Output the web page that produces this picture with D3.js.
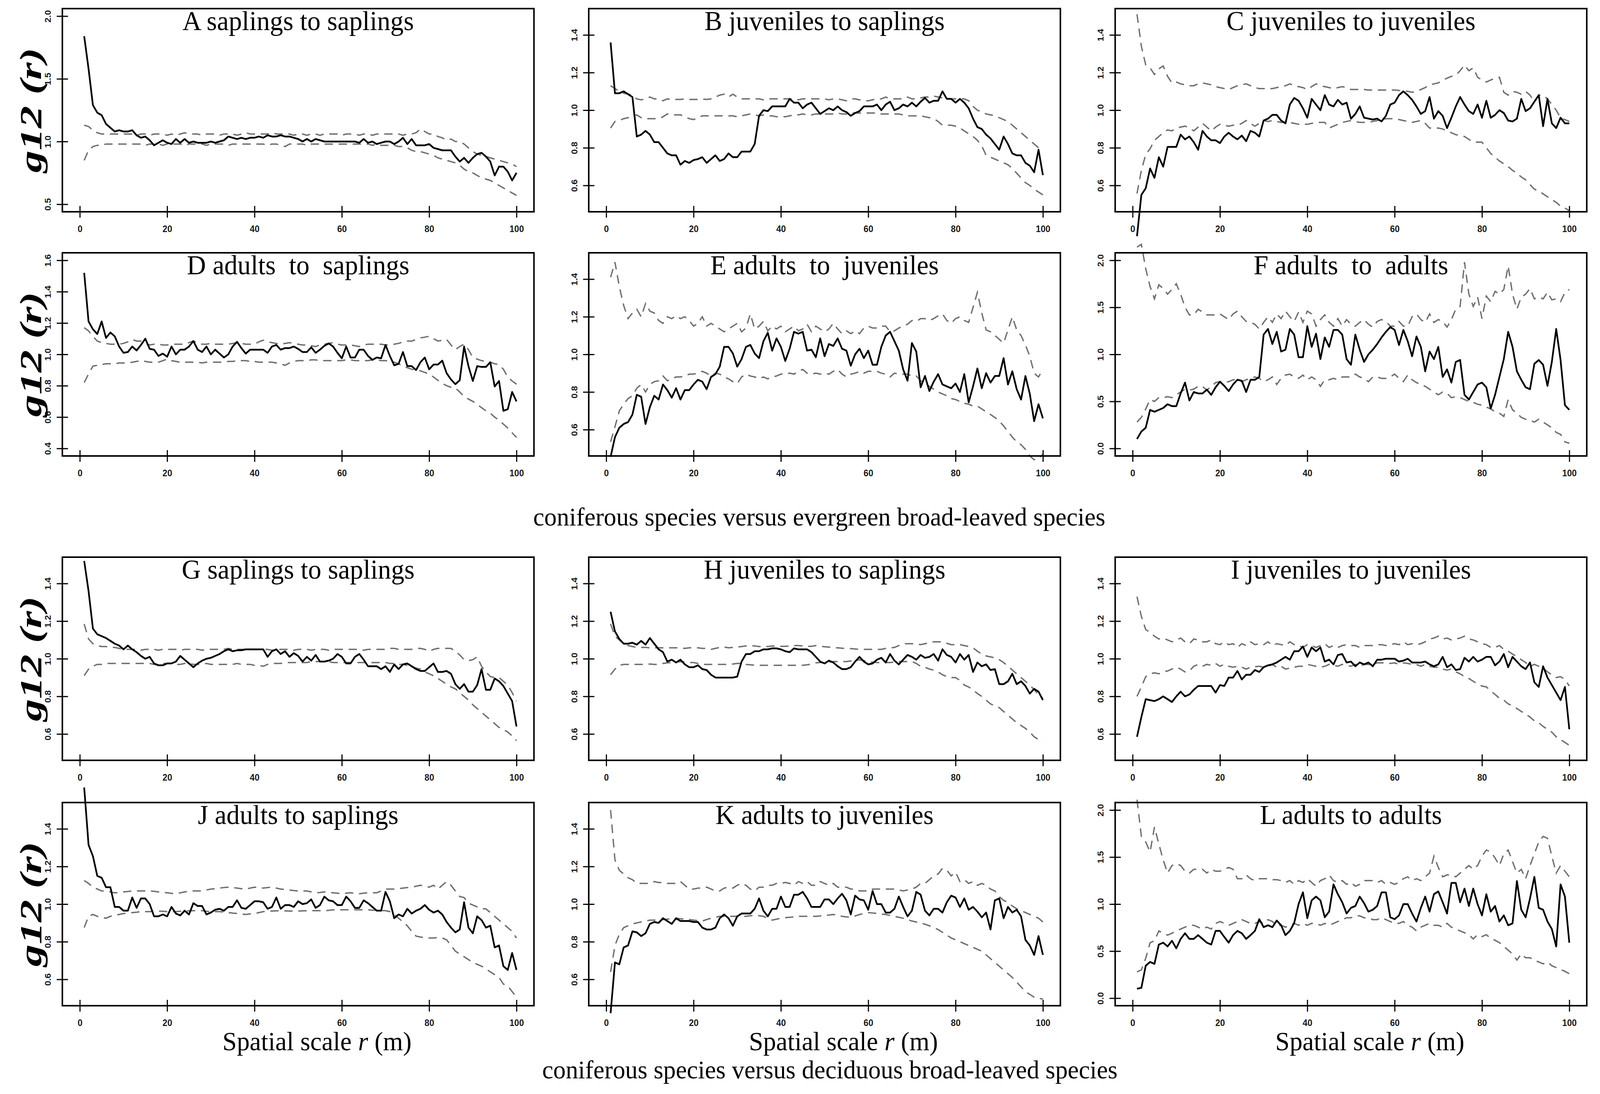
<!DOCTYPE html>
<head>
<meta charset="utf-8">
<script src="https://d3js.org/d3.v7.min.js"></script>
<style>
html, body { margin: 0; padding: 0; background: white; overflow: hidden; width: 100%; height: 100%; }
#plotContainer { width: 100vw; height: 100vh; }
svg { display: block; }
.tick text {
  font-family: 'Liberation Sans', Arial, sans-serif;
  font-weight: bold;
  font-size: 23px;
  fill: #1a1a1a;
}
.tick line { stroke: black; stroke-width: 3; }
.title {
  font-family: 'Liberation Serif', 'Times New Roman', serif;
  font-size: 70px;
  white-space: pre;
}
.caption {
  font-family: 'Liberation Serif', 'Times New Roman', serif;
  font-size: 66px;
}
.xlab {
  font-family: 'Liberation Serif', 'Times New Roman', serif;
  font-size: 68px;
  white-space: pre;
}
.ylab {
  font-family: 'Liberation Serif', 'Times New Roman', serif;
  font-style: italic;
  font-weight: bold;
  font-size: 80px;
}
.obs { fill: none; stroke: black; stroke-width: 4.5; stroke-linejoin: round; }
.env { fill: none; stroke: #6e6e6e; stroke-width: 3.5; stroke-dasharray: 22,15; }
</style>
</head>

<body>
<div id="plotContainer"></div>
<script>

// spatial scale r (m)
var r = d3.range(1, 101);

var titles = ["A saplings to saplings", "B juveniles to saplings", "C juveniles to juveniles",
              "D adults  to  saplings", "E adults  to  juveniles", "F adults  to  adults",
              "G saplings to saplings", "H juveniles to saplings", "I juveniles to juveniles",
              "J adults to saplings", "K adults to juveniles", "L adults to adults"];

var xTicks = [0, 20, 40, 60, 80, 100];

var A_obs = [1.84,1.58,1.29,1.23,1.21,1.14,1.11,1.08,1.09,1.08,
1.08,1.09,1.05,1.03,1.04,1.01,0.97,0.99,1.01,0.99,
0.98,1.02,0.99,1.02,0.99,1.00,0.99,0.99,0.99,1.00,
0.99,1.00,1.01,1.04,1.03,1.02,1.03,1.02,1.03,1.03,
1.04,1.03,1.05,1.04,1.04,1.05,1.04,1.04,1.03,1.02,
1.00,1.02,1.00,1.02,1.01,1.00,1.00,1.00,1.00,1.00,
1.00,1.00,1.00,0.99,1.02,0.99,1.00,0.98,0.99,1.00,
1.00,0.98,1.00,1.03,0.98,1.02,0.97,0.97,0.97,0.98,
0.95,0.94,0.93,0.93,0.93,0.88,0.84,0.87,0.83,0.87,
0.90,0.91,0.88,0.84,0.73,0.80,0.80,0.76,0.69,0.75];
var A_hi = [1.13,1.12,1.09,1.07,1.06,1.06,1.06,1.06,1.06,1.06,
1.06,1.06,1.05,1.06,1.06,1.05,1.06,1.06,1.06,1.05,
1.06,1.05,1.06,1.07,1.06,1.06,1.06,1.05,1.06,1.06,
1.06,1.05,1.06,1.06,1.06,1.05,1.06,1.07,1.06,1.06,
1.06,1.06,1.06,1.07,1.06,1.06,1.06,1.06,1.05,1.06,
1.06,1.05,1.06,1.06,1.05,1.06,1.06,1.06,1.06,1.05,
1.06,1.06,1.06,1.05,1.06,1.06,1.05,1.06,1.06,1.06,
1.06,1.06,1.06,1.05,1.06,1.06,1.07,1.10,1.08,1.06,
1.06,1.04,1.03,1.01,1.02,1.00,1.00,0.98,0.95,0.92,
0.90,0.89,0.88,0.87,0.86,0.85,0.84,0.83,0.82,0.80];
var A_lo = [0.85,0.93,0.96,0.97,0.97,0.98,0.98,0.98,0.98,0.98,
0.98,0.98,0.98,0.98,0.97,0.98,0.98,0.98,0.97,0.98,
0.98,0.98,0.98,0.97,0.98,0.98,0.98,0.98,0.97,0.98,
0.98,0.98,0.98,0.97,0.98,0.98,0.98,0.98,0.98,0.98,
0.98,0.98,0.97,0.98,0.98,0.97,0.96,0.98,0.98,0.98,
0.98,0.97,0.98,0.98,0.98,0.98,0.98,0.98,0.98,0.98,
0.98,0.98,0.98,0.98,0.98,0.98,0.97,0.98,0.97,0.97,
0.97,0.97,0.96,0.96,0.95,0.93,0.92,0.92,0.91,0.90,
0.89,0.87,0.86,0.85,0.84,0.83,0.81,0.78,0.76,0.75,
0.73,0.71,0.70,0.69,0.67,0.65,0.63,0.61,0.59,0.57];

var B_obs = [1.36,1.09,1.09,1.10,1.085,1.07,0.86,0.87,0.89,0.87,
0.83,0.83,0.80,0.77,0.76,0.76,0.71,0.73,0.72,0.735,
0.74,0.75,0.72,0.74,0.76,0.73,0.74,0.77,0.75,0.75,
0.78,0.78,0.78,0.82,0.97,1.00,0.995,1.02,1.02,1.02,
1.02,1.06,1.04,1.04,1.01,1.03,1.04,1.01,0.98,0.995,
1.01,1.00,1.02,1.00,0.99,0.97,0.985,0.995,1.02,1.02,
1.02,1.03,1.00,1.03,1.045,1.00,1.01,1.03,1.02,1.04,
1.02,1.045,1.065,1.04,1.05,1.05,1.10,1.06,1.06,1.04,
1.06,1.04,1.01,0.955,0.91,0.90,0.87,0.85,0.82,0.79,
0.86,0.82,0.77,0.76,0.76,0.72,0.705,0.67,0.79,0.655];
var B_hi = [1.13,1.115,1.10,1.09,1.085,1.08,1.06,1.055,1.06,1.07,
1.06,1.06,1.05,1.06,1.057,1.057,1.057,1.06,1.057,1.057,
1.057,1.06,1.057,1.06,1.07,1.08,1.085,1.07,1.085,1.07,
1.06,1.06,1.06,1.06,1.06,1.055,1.06,1.06,1.06,1.06,
1.06,1.06,1.06,1.055,1.06,1.06,1.06,1.06,1.06,1.06,
1.055,1.06,1.06,1.055,1.05,1.06,1.06,1.055,1.05,1.05,
1.055,1.06,1.06,1.07,1.06,1.06,1.06,1.06,1.07,1.06,
1.06,1.065,1.07,1.07,1.075,1.07,1.065,1.06,1.06,1.06,
1.06,1.06,1.05,1.02,1.00,0.99,0.98,0.975,0.97,0.96,
0.95,0.94,0.92,0.90,0.88,0.86,0.84,0.82,0.80,0.79];
var B_lo = [0.905,0.94,0.945,0.955,0.96,0.97,0.975,0.96,0.955,0.955,
0.955,0.955,0.965,0.98,0.975,0.975,0.975,0.965,0.955,0.95,
0.96,0.97,0.97,0.97,0.97,0.97,0.97,0.97,0.97,0.965,
0.97,0.975,0.98,0.975,0.97,0.975,0.97,0.97,0.965,0.965,
0.965,0.97,0.975,0.975,0.98,0.975,0.975,0.98,0.98,0.98,
0.98,0.98,0.985,0.98,0.98,0.985,0.985,0.985,0.985,0.985,
0.985,0.985,0.98,0.98,0.98,0.98,0.98,0.975,0.97,0.97,
0.97,0.97,0.965,0.96,0.955,0.94,0.92,0.92,0.92,0.915,
0.905,0.89,0.875,0.86,0.84,0.81,0.76,0.75,0.74,0.73,
0.72,0.71,0.69,0.665,0.64,0.615,0.60,0.58,0.565,0.55];

var C_obs = [0.33,0.55,0.585,0.69,0.64,0.75,0.70,0.805,0.805,0.805,
0.87,0.845,0.86,0.83,0.79,0.89,0.86,0.84,0.84,0.825,
0.86,0.88,0.86,0.845,0.865,0.835,0.89,0.88,0.86,0.945,
0.955,0.975,0.975,0.945,0.93,1.03,1.065,1.05,1.01,0.96,
1.06,1.03,1.00,1.08,1.03,1.02,1.055,1.03,1.04,0.955,
0.98,1.02,0.96,0.955,0.95,0.955,0.94,0.97,1.03,1.04,
1.08,1.10,1.08,1.055,1.02,0.98,0.995,1.07,0.955,0.995,
0.97,0.905,0.96,1.02,1.07,1.03,0.995,0.98,1.03,0.96,
1.05,0.96,0.975,1.00,0.985,0.945,0.94,0.955,1.06,0.995,
1.01,1.045,1.08,0.915,1.06,0.93,0.905,0.96,0.93,0.93];
var C_hi = [1.51,1.34,1.24,1.225,1.19,1.22,1.235,1.18,1.145,1.15,
1.14,1.135,1.13,1.13,1.14,1.145,1.14,1.135,1.125,1.12,
1.115,1.11,1.12,1.13,1.135,1.14,1.13,1.12,1.115,1.115,
1.115,1.115,1.12,1.125,1.13,1.14,1.13,1.125,1.12,1.11,
1.125,1.14,1.13,1.125,1.12,1.115,1.12,1.125,1.12,1.11,
1.11,1.11,1.11,1.107,1.107,1.107,1.107,1.107,1.107,1.107,
1.105,1.103,1.10,1.095,1.10,1.11,1.12,1.135,1.14,1.145,
1.16,1.17,1.18,1.185,1.21,1.24,1.21,1.225,1.175,1.16,
1.15,1.16,1.17,1.175,1.095,1.08,1.10,1.095,1.085,1.10,
1.08,1.045,1.08,1.08,1.06,1.03,1.00,0.96,0.95,0.94];
var C_lo = [0.557,0.68,0.765,0.795,0.84,0.86,0.88,0.895,0.89,0.905,
0.91,0.915,0.905,0.89,0.91,0.93,0.91,0.89,0.91,0.925,
0.92,0.915,0.92,0.92,0.93,0.945,0.93,0.915,0.93,0.945,
0.94,0.945,0.94,0.935,0.935,0.935,0.93,0.925,0.925,0.925,
0.93,0.935,0.935,0.935,0.905,0.915,0.925,0.935,0.94,0.945,
0.94,0.935,0.935,0.935,0.94,0.945,0.95,0.955,0.955,0.955,
0.95,0.945,0.94,0.935,0.94,0.945,0.93,0.905,0.905,0.905,
0.90,0.89,0.88,0.87,0.865,0.86,0.845,0.83,0.83,0.83,
0.80,0.77,0.75,0.73,0.715,0.70,0.68,0.665,0.645,0.63,
0.605,0.58,0.57,0.555,0.54,0.525,0.51,0.49,0.48,0.466];

var D_obs = [1.52,1.21,1.16,1.13,1.21,1.105,1.14,1.115,1.05,1.01,
1.015,1.05,1.025,1.06,1.10,1.035,1.03,0.99,1.005,0.985,
1.05,1.00,1.03,1.03,1.05,1.085,1.03,1.015,1.05,1.00,
1.03,1.005,0.98,1.00,1.05,1.08,1.04,1.005,1.03,1.03,
1.03,1.03,1.01,1.05,1.06,1.03,1.04,1.04,1.05,1.035,
1.015,1.015,1.045,1.01,1.03,1.055,1.07,1.05,1.01,0.975,
1.05,0.98,0.98,1.03,1.03,0.99,0.965,0.98,0.975,1.06,
0.99,0.93,0.94,1.015,0.925,0.925,0.90,0.95,0.98,0.905,
0.935,0.935,0.96,0.88,0.84,0.81,0.835,1.05,0.925,0.83,
0.925,0.92,0.92,0.95,0.795,0.83,0.64,0.65,0.76,0.70];
var D_hi = [1.17,1.15,1.115,1.085,1.075,1.07,1.065,1.065,1.065,1.07,
1.08,1.095,1.085,1.085,1.07,1.06,1.065,1.065,1.06,1.06,
1.065,1.065,1.065,1.065,1.075,1.085,1.075,1.065,1.065,1.07,
1.065,1.065,1.065,1.065,1.07,1.075,1.07,1.065,1.065,1.065,
1.08,1.09,1.08,1.075,1.07,1.065,1.07,1.075,1.07,1.065,
1.06,1.06,1.055,1.05,1.06,1.065,1.07,1.075,1.065,1.06,
1.06,1.06,1.055,1.05,1.06,1.065,1.065,1.065,1.065,1.06,
1.06,1.065,1.07,1.08,1.085,1.085,1.095,1.105,1.11,1.115,
1.10,1.085,1.09,1.095,1.06,1.03,1.05,1.065,1.03,0.98,
0.97,0.96,0.955,0.95,0.94,0.935,0.905,0.855,0.83,0.81];
var D_lo = [0.82,0.875,0.925,0.93,0.935,0.94,0.94,0.94,0.945,0.945,
0.945,0.95,0.955,0.96,0.955,0.95,0.95,0.95,0.96,0.97,
0.96,0.955,0.95,0.95,0.95,0.95,0.95,0.945,0.95,0.95,
0.95,0.95,0.95,0.955,0.955,0.96,0.96,0.96,0.955,0.955,
0.95,0.95,0.95,0.95,0.945,0.94,0.93,0.945,0.955,0.96,
0.96,0.96,0.965,0.965,0.96,0.96,0.96,0.96,0.96,0.96,
0.965,0.965,0.96,0.96,0.96,0.96,0.965,0.965,0.96,0.96,
0.955,0.95,0.94,0.925,0.915,0.905,0.90,0.895,0.885,0.875,
0.855,0.835,0.815,0.80,0.79,0.785,0.76,0.73,0.715,0.70,
0.68,0.66,0.64,0.625,0.60,0.58,0.555,0.53,0.50,0.47];

var E_obs = [0.455,0.56,0.61,0.63,0.64,0.68,0.785,0.775,0.63,0.72,
0.78,0.76,0.84,0.81,0.77,0.82,0.76,0.81,0.81,0.84,
0.865,0.855,0.815,0.88,0.895,0.935,1.04,1.04,1.005,0.935,
0.975,1.04,1.05,1.005,0.98,1.07,1.115,1.02,1.085,1.04,
0.965,1.03,1.12,1.11,1.12,1.02,1.025,0.985,1.085,0.99,
1.055,1.045,1.085,1.03,1.02,0.94,1.00,1.03,0.98,1.02,
0.945,0.945,1.04,1.10,1.12,1.07,1.02,0.92,0.86,1.06,
1.015,0.825,0.885,0.805,0.855,0.895,0.84,0.83,0.82,0.845,
0.80,0.895,0.745,0.83,0.925,0.82,0.90,0.85,0.885,0.885,
0.98,0.84,0.91,0.815,0.76,0.885,0.79,0.645,0.735,0.66];
var E_hi = [1.41,1.49,1.36,1.26,1.19,1.22,1.24,1.20,1.27,1.23,
1.22,1.18,1.165,1.20,1.19,1.205,1.19,1.20,1.18,1.15,
1.165,1.20,1.15,1.165,1.15,1.135,1.12,1.135,1.15,1.165,
1.12,1.14,1.215,1.135,1.15,1.175,1.125,1.15,1.135,1.15,
1.12,1.135,1.15,1.125,1.135,1.16,1.12,1.15,1.135,1.12,
1.135,1.165,1.135,1.11,1.125,1.11,1.125,1.11,1.14,1.15,
1.14,1.14,1.15,1.15,1.12,1.125,1.14,1.15,1.16,1.18,
1.175,1.19,1.19,1.18,1.19,1.205,1.215,1.18,1.165,1.19,
1.20,1.18,1.17,1.25,1.33,1.22,1.13,1.12,1.10,1.08,
1.06,1.13,1.20,1.13,1.10,1.05,0.99,0.90,0.88,0.92];
var E_lo = [0.535,0.615,0.70,0.735,0.765,0.78,0.82,0.84,0.80,0.84,
0.855,0.86,0.885,0.86,0.87,0.88,0.88,0.885,0.895,0.895,
0.90,0.91,0.90,0.885,0.90,0.895,0.88,0.87,0.855,0.845,
0.88,0.895,0.885,0.88,0.87,0.88,0.87,0.88,0.885,0.895,
0.895,0.90,0.895,0.91,0.92,0.90,0.895,0.90,0.895,0.90,
0.895,0.91,0.92,0.895,0.88,0.895,0.90,0.91,0.90,0.91,
0.91,0.91,0.90,0.895,0.88,0.90,0.895,0.895,0.895,0.885,
0.885,0.86,0.845,0.83,0.815,0.80,0.79,0.78,0.765,0.76,
0.75,0.74,0.735,0.725,0.725,0.71,0.695,0.68,0.665,0.645,
0.62,0.59,0.56,0.535,0.52,0.495,0.46,0.44,0.445,0.47];

var F_obs = [0.10,0.18,0.22,0.41,0.39,0.41,0.43,0.47,0.45,0.45,
0.585,0.70,0.51,0.60,0.585,0.585,0.625,0.57,0.65,0.71,
0.665,0.61,0.68,0.73,0.72,0.60,0.73,0.73,0.76,1.21,
1.27,1.11,1.24,1.03,1.05,1.27,1.21,0.97,0.97,1.30,
1.08,1.22,0.95,1.18,1.08,1.26,1.26,1.21,0.95,0.89,
1.21,1.05,0.92,1.00,1.05,1.11,1.18,1.24,1.29,1.26,
1.10,1.26,1.14,0.98,1.19,1.08,0.82,1.03,0.95,1.08,
0.76,0.84,0.70,0.92,0.94,0.57,0.52,0.60,0.68,0.70,
0.65,0.425,0.57,0.76,0.95,1.24,1.08,0.82,0.73,0.65,
0.63,0.90,0.94,0.89,0.665,0.92,1.27,0.94,0.46,0.41];
var F_hi = [2.14,2.17,1.91,1.72,1.59,1.74,1.70,1.64,1.69,1.75,
1.64,1.50,1.42,1.42,1.48,1.45,1.42,1.42,1.42,1.43,
1.40,1.37,1.43,1.46,1.40,1.35,1.34,1.32,1.27,1.34,
1.40,1.34,1.43,1.38,1.46,1.40,1.35,1.45,1.34,1.46,
1.43,1.30,1.37,1.42,1.34,1.30,1.38,1.30,1.37,1.32,
1.30,1.34,1.37,1.32,1.29,1.35,1.37,1.35,1.30,1.30,
1.35,1.30,1.30,1.40,1.43,1.37,1.34,1.43,1.34,1.37,
1.35,1.29,1.37,1.48,1.51,1.98,1.64,1.51,1.61,1.38,
1.62,1.56,1.67,1.64,1.69,1.94,1.64,1.48,1.61,1.64,
1.70,1.59,1.61,1.59,1.66,1.58,1.59,1.56,1.66,1.69];
var F_lo = [0.28,0.33,0.42,0.52,0.50,0.54,0.54,0.55,0.54,0.57,
0.60,0.63,0.62,0.63,0.66,0.66,0.62,0.66,0.70,0.71,
0.70,0.71,0.73,0.73,0.71,0.73,0.745,0.76,0.745,0.71,
0.73,0.76,0.68,0.745,0.78,0.79,0.76,0.745,0.78,0.73,
0.76,0.73,0.66,0.73,0.73,0.745,0.73,0.76,0.76,0.76,
0.79,0.76,0.745,0.71,0.76,0.76,0.745,0.745,0.76,0.79,
0.745,0.71,0.78,0.73,0.70,0.68,0.66,0.63,0.60,0.57,
0.60,0.585,0.54,0.55,0.54,0.52,0.50,0.49,0.47,0.46,
0.44,0.42,0.39,0.375,0.34,0.52,0.41,0.375,0.33,0.31,
0.30,0.28,0.31,0.28,0.25,0.22,0.17,0.15,0.07,0.055];

var G_obs = [1.52,1.36,1.16,1.13,1.12,1.11,1.095,1.08,1.07,1.05,
1.07,1.05,1.035,1.015,1.0,1.01,0.975,0.965,0.965,0.975,
0.975,0.985,1.015,0.995,0.975,0.955,0.975,0.99,1.0,1.005,
1.015,1.025,1.04,1.05,1.04,1.045,1.045,1.05,1.05,1.05,
1.05,1.05,1.01,1.04,1.05,1.025,1.04,1.01,1.03,1.015,
0.985,1.01,0.99,1.02,0.985,0.985,0.99,1.0,1.025,1.01,
0.975,0.975,1.01,1.025,0.995,0.96,0.96,0.96,0.945,0.96,
0.93,0.97,0.945,0.97,0.975,0.96,0.945,0.935,0.935,0.955,
0.975,0.93,0.93,0.935,0.92,0.865,0.84,0.865,0.825,0.825,
0.86,0.945,0.835,0.835,0.895,0.88,0.855,0.815,0.775,0.64];
var G_hi = [1.185,1.105,1.08,1.07,1.065,1.065,1.06,1.06,1.055,1.05,
1.05,1.05,1.05,1.045,1.05,1.05,1.05,1.045,1.05,1.05,
1.05,1.05,1.045,1.05,1.05,1.05,1.05,1.045,1.05,1.05,
1.05,1.05,1.05,1.055,1.05,1.05,1.05,1.05,1.05,1.05,
1.05,1.05,1.05,1.045,1.05,1.05,1.05,1.05,1.045,1.05,
1.05,1.05,1.045,1.05,1.05,1.05,1.045,1.05,1.05,1.05,
1.05,1.05,1.05,1.05,1.045,1.05,1.05,1.05,1.05,1.05,
1.055,1.055,1.05,1.05,1.05,1.05,1.055,1.055,1.05,1.04,
1.05,1.055,1.055,1.055,1.055,1.04,1.02,0.995,0.99,0.995,
1.01,0.96,0.93,0.905,0.90,0.90,0.88,0.86,0.82,0.775];
var G_lo = [0.91,0.945,0.96,0.97,0.97,0.975,0.975,0.975,0.975,0.975,
0.975,0.975,0.975,0.975,0.975,0.975,0.97,0.97,0.975,0.975,
0.975,0.97,0.97,0.975,0.975,0.97,0.97,0.97,0.975,0.97,
0.97,0.97,0.97,0.97,0.97,0.975,0.97,0.97,0.97,0.965,
0.965,0.96,0.97,0.975,0.975,0.975,0.98,0.98,0.98,0.98,
0.98,0.98,0.985,0.985,0.985,0.985,0.985,0.98,0.98,0.98,
0.98,0.98,0.98,0.98,0.98,0.98,0.98,0.98,0.98,0.98,
0.975,0.975,0.97,0.97,0.965,0.96,0.95,0.945,0.93,0.92,
0.91,0.895,0.88,0.865,0.85,0.84,0.82,0.80,0.78,0.755,
0.735,0.715,0.695,0.675,0.655,0.635,0.625,0.61,0.59,0.565];

var H_obs = [1.25,1.145,1.105,1.08,1.08,1.085,1.075,1.095,1.075,1.11,
1.08,1.05,1.035,0.985,0.995,0.98,0.995,0.97,0.955,0.955,
0.965,0.945,0.94,0.915,0.90,0.90,0.90,0.90,0.90,0.905,
0.985,1.025,1.025,1.04,1.04,1.05,1.05,1.055,1.055,1.05,
1.04,1.035,1.055,1.05,1.05,1.05,1.035,1.01,0.985,0.975,
0.99,0.98,0.96,0.945,0.945,0.955,0.985,1.01,0.985,0.97,
0.975,0.995,1.005,0.98,1.025,0.99,0.97,0.995,1.02,1.01,
0.995,1.02,1.005,1.01,1.025,0.99,1.05,1.02,1.01,0.98,
1.025,0.995,1.02,0.93,0.98,0.96,0.97,0.94,0.945,0.865,
0.865,0.88,0.92,0.865,0.88,0.855,0.815,0.84,0.825,0.78];
var H_hi = [1.185,1.12,1.10,1.08,1.07,1.065,1.06,1.06,1.06,1.058,
1.058,1.058,1.058,1.058,1.058,1.058,1.058,1.055,1.058,1.058,
1.058,1.055,1.055,1.05,1.055,1.06,1.062,1.058,1.06,1.062,
1.065,1.068,1.07,1.068,1.065,1.065,1.065,1.068,1.066,1.066,
1.066,1.068,1.07,1.07,1.068,1.066,1.066,1.07,1.066,1.064,
1.062,1.058,1.058,1.056,1.055,1.054,1.052,1.05,1.05,1.05,
1.05,1.05,1.05,1.055,1.058,1.06,1.07,1.08,1.08,1.08,
1.078,1.075,1.08,1.085,1.09,1.09,1.09,1.082,1.075,1.075,
1.075,1.07,1.065,1.058,1.04,1.025,1.015,1.01,1.005,0.995,
0.98,0.96,0.94,0.92,0.90,0.88,0.86,0.835,0.81,0.79];
var H_lo = [0.915,0.945,0.965,0.97,0.97,0.97,0.97,0.97,0.97,0.972,
0.97,0.97,0.975,0.978,0.98,0.982,0.985,0.982,0.98,0.98,
0.975,0.97,0.97,0.97,0.97,0.97,0.97,0.97,0.972,0.975,
0.975,0.97,0.968,0.966,0.965,0.965,0.965,0.965,0.965,0.965,
0.965,0.965,0.965,0.965,0.965,0.968,0.972,0.978,0.98,0.98,
0.982,0.985,0.985,0.985,0.985,0.988,0.99,0.994,0.99,0.985,
0.982,0.98,0.98,0.98,0.98,0.982,0.985,0.985,0.985,0.985,
0.975,0.96,0.955,0.945,0.94,0.93,0.915,0.905,0.90,0.90,
0.885,0.86,0.85,0.835,0.815,0.80,0.78,0.76,0.75,0.74,
0.72,0.70,0.68,0.66,0.645,0.63,0.61,0.585,0.57,0.56];

var I_obs = [0.585,0.69,0.785,0.78,0.775,0.785,0.80,0.785,0.77,0.80,
0.825,0.80,0.81,0.835,0.855,0.855,0.855,0.855,0.82,0.86,
0.855,0.90,0.90,0.935,0.89,0.915,0.915,0.94,0.93,0.955,
0.965,0.97,0.98,0.995,1.01,0.995,1.04,1.04,1.065,1.01,
1.06,1.04,1.06,0.985,0.995,0.97,1.02,1.025,0.98,0.985,
0.96,0.98,0.97,0.98,0.96,0.995,0.995,1.0,1.0,1.0,
0.985,0.99,1.0,0.98,0.98,0.98,0.985,0.97,0.96,0.97,
1.01,0.955,0.97,0.94,0.945,1.005,0.985,1.01,0.985,0.995,
1.01,1.01,0.965,0.985,1.025,0.955,1.01,0.985,0.96,0.945,
0.98,0.875,0.85,0.96,0.90,0.86,0.82,0.78,0.85,0.625];
var I_hi = [1.33,1.225,1.155,1.14,1.12,1.105,1.11,1.10,1.09,1.10,
1.11,1.09,1.08,1.105,1.10,1.09,1.09,1.10,1.08,1.075,
1.09,1.075,1.08,1.06,1.08,1.07,1.09,1.075,1.08,1.075,
1.09,1.07,1.08,1.075,1.07,1.09,1.075,1.07,1.06,1.075,
1.07,1.06,1.07,1.08,1.06,1.07,1.06,1.07,1.075,1.07,
1.07,1.06,1.07,1.07,1.07,1.075,1.075,1.07,1.075,1.08,
1.075,1.09,1.075,1.08,1.075,1.08,1.09,1.105,1.11,1.12,
1.105,1.11,1.10,1.105,1.11,1.12,1.105,1.10,1.09,1.08,
1.075,1.06,1.06,1.07,1.05,1.04,1.025,1.01,0.995,0.98,
0.96,0.97,0.96,0.95,0.93,0.915,0.90,0.905,0.89,0.855];
var I_lo = [0.80,0.85,0.905,0.92,0.925,0.92,0.93,0.935,0.945,0.955,
0.945,0.93,0.935,0.96,0.97,0.96,0.97,0.965,0.975,0.96,
0.97,0.96,0.955,0.96,0.955,0.945,0.955,0.958,0.96,0.955,
0.96,0.97,0.955,0.96,0.945,0.95,0.955,0.96,0.96,0.97,
0.965,0.96,0.955,0.96,0.97,0.965,0.96,0.97,0.965,0.96,
0.97,0.96,0.97,0.97,0.97,0.978,0.978,0.978,0.975,0.978,
0.97,0.978,0.975,0.97,0.97,0.96,0.97,0.96,0.955,0.955,
0.945,0.94,0.945,0.93,0.92,0.905,0.895,0.88,0.865,0.855,
0.85,0.83,0.81,0.79,0.78,0.76,0.75,0.735,0.72,0.705,
0.69,0.67,0.66,0.64,0.625,0.61,0.585,0.57,0.555,0.54];

var J_obs = [1.62,1.315,1.255,1.15,1.14,1.09,1.09,0.985,0.985,0.965,
0.965,1.035,0.98,1.03,1.03,1.0,0.935,0.935,0.945,0.935,
0.985,0.95,0.94,0.965,0.945,1.005,0.99,0.99,0.945,0.955,
0.97,0.975,0.965,0.985,0.985,1.02,0.98,0.975,0.995,1.015,
1.015,1.01,0.975,0.985,1.035,0.975,0.995,0.995,0.985,1.015,
1.0,1.005,1.025,0.98,0.995,1.04,1.02,1.015,0.995,0.995,
1.04,1.015,0.98,0.98,1.02,1.005,0.985,0.965,0.965,1.065,
1.015,0.925,0.945,0.935,0.975,0.95,0.965,0.975,0.995,0.97,
0.955,0.965,0.945,0.905,0.875,0.85,0.865,1.01,0.875,0.845,
0.935,0.915,0.875,0.885,0.77,0.78,0.67,0.65,0.74,0.65];
var J_hi = [1.125,1.11,1.09,1.08,1.07,1.07,1.065,1.06,1.062,1.065,
1.067,1.07,1.07,1.07,1.07,1.07,1.068,1.065,1.062,1.06,
1.057,1.055,1.06,1.065,1.068,1.07,1.07,1.07,1.075,1.08,
1.082,1.085,1.088,1.09,1.088,1.085,1.082,1.08,1.085,1.09,
1.088,1.085,1.088,1.09,1.085,1.08,1.078,1.075,1.072,1.07,
1.07,1.07,1.065,1.06,1.062,1.065,1.062,1.06,1.058,1.055,
1.058,1.06,1.058,1.055,1.058,1.06,1.06,1.06,1.07,1.08,
1.08,1.08,1.082,1.085,1.088,1.09,1.095,1.10,1.095,1.09,
1.10,1.08,1.10,1.12,1.10,1.07,1.04,1.035,1.005,0.995,
0.985,0.975,0.975,0.955,0.935,0.915,0.895,0.875,0.855,0.82];
var J_lo = [0.875,0.935,0.945,0.935,0.93,0.925,0.935,0.94,0.945,0.95,
0.952,0.955,0.957,0.96,0.96,0.96,0.962,0.963,0.962,0.96,
0.96,0.96,0.962,0.963,0.964,0.965,0.965,0.965,0.962,0.96,
0.96,0.96,0.958,0.955,0.952,0.95,0.947,0.945,0.948,0.95,
0.955,0.96,0.962,0.963,0.964,0.965,0.964,0.963,0.963,0.963,
0.964,0.965,0.965,0.965,0.965,0.965,0.967,0.97,0.97,0.97,
0.97,0.97,0.97,0.97,0.97,0.97,0.968,0.967,0.966,0.965,
0.96,0.945,0.925,0.905,0.885,0.855,0.83,0.825,0.822,0.82,
0.82,0.822,0.82,0.81,0.78,0.75,0.735,0.72,0.705,0.69,
0.68,0.67,0.655,0.64,0.625,0.61,0.575,0.565,0.535,0.505];

var K_obs = [0.42,0.69,0.68,0.77,0.78,0.855,0.85,0.83,0.845,0.895,
0.905,0.90,0.925,0.91,0.895,0.925,0.91,0.91,0.91,0.905,
0.905,0.875,0.865,0.865,0.875,0.925,0.945,0.925,0.885,0.935,
0.95,0.95,0.95,0.975,1.03,0.965,0.935,0.975,0.975,1.04,
0.985,0.985,1.05,1.05,1.065,1.03,0.985,0.985,0.985,1.025,
1.025,1.0,1.03,1.055,1.02,0.945,1.045,1.025,1.02,0.97,
1.07,1.0,1.0,0.955,0.955,0.975,1.04,0.985,0.935,0.965,
1.065,1.05,0.965,0.94,0.975,0.975,0.955,1.01,1.045,1.035,
0.985,1.03,0.97,0.985,0.96,0.93,0.955,0.865,1.02,1.03,
0.925,0.985,0.955,0.97,0.935,0.81,0.78,0.73,0.83,0.73];
var K_hi = [1.50,1.235,1.18,1.16,1.14,1.13,1.11,1.11,1.11,1.11,
1.12,1.115,1.115,1.11,1.11,1.11,1.12,1.10,1.08,1.08,
1.085,1.085,1.09,1.08,1.07,1.07,1.085,1.09,1.085,1.10,
1.11,1.10,1.08,1.07,1.09,1.09,1.10,1.10,1.11,1.11,
1.115,1.11,1.10,1.12,1.11,1.12,1.10,1.10,1.12,1.11,
1.10,1.11,1.09,1.09,1.09,1.08,1.08,1.07,1.07,1.07,
1.08,1.08,1.08,1.08,1.08,1.08,1.075,1.07,1.075,1.08,
1.09,1.11,1.11,1.13,1.15,1.16,1.19,1.18,1.15,1.17,
1.12,1.13,1.11,1.12,1.10,1.11,1.10,1.08,1.07,1.04,
1.02,1.01,0.99,0.975,0.965,0.955,0.945,0.935,0.925,0.905];
var K_lo = [0.64,0.78,0.84,0.875,0.885,0.895,0.90,0.905,0.91,0.915,
0.915,0.915,0.918,0.92,0.922,0.925,0.922,0.92,0.918,0.915,
0.912,0.91,0.918,0.925,0.93,0.935,0.935,0.935,0.935,0.935,
0.935,0.935,0.938,0.94,0.938,0.935,0.925,0.915,0.92,0.925,
0.928,0.93,0.932,0.935,0.935,0.935,0.935,0.935,0.937,0.94,
0.942,0.945,0.94,0.935,0.932,0.93,0.937,0.945,0.95,0.955,
0.953,0.95,0.947,0.945,0.94,0.935,0.93,0.925,0.918,0.91,
0.905,0.90,0.893,0.885,0.875,0.865,0.85,0.835,0.82,0.81,
0.80,0.79,0.78,0.77,0.76,0.75,0.73,0.71,0.69,0.67,
0.65,0.63,0.61,0.585,0.56,0.535,0.52,0.505,0.50,0.495];

var L_obs = [0.10,0.11,0.345,0.385,0.365,0.57,0.59,0.55,0.61,0.53,
0.63,0.69,0.63,0.63,0.67,0.63,0.59,0.57,0.715,0.715,
0.65,0.59,0.67,0.715,0.69,0.63,0.67,0.715,0.84,0.755,
0.775,0.755,0.825,0.775,0.67,0.715,0.80,1.0,1.125,0.85,
1.04,1.08,1.04,0.86,0.92,1.21,1.105,1.02,0.90,0.96,
0.98,1.08,1.01,0.92,0.94,0.98,1.125,1.125,0.86,0.84,
0.88,1.0,1.0,0.90,0.815,0.96,1.08,0.92,1.105,1.135,
1.02,0.90,1.225,1.225,1.02,1.165,0.98,1.165,1.0,0.88,
1.105,0.92,0.98,0.815,0.88,0.775,0.795,1.245,0.94,0.86,
1.06,1.29,0.96,0.94,0.815,0.735,0.55,1.21,1.08,0.59];
var L_hi = [2.11,1.72,1.66,1.555,1.82,1.64,1.47,1.33,1.41,1.43,
1.41,1.35,1.33,1.37,1.37,1.37,1.33,1.37,1.35,1.35,
1.37,1.39,1.37,1.27,1.27,1.31,1.27,1.25,1.27,1.27,
1.27,1.26,1.26,1.25,1.23,1.25,1.21,1.25,1.23,1.27,
1.23,1.19,1.25,1.27,1.31,1.25,1.23,1.25,1.21,1.23,
1.19,1.21,1.25,1.25,1.25,1.23,1.25,1.21,1.23,1.21,
1.23,1.27,1.29,1.25,1.27,1.25,1.29,1.33,1.51,1.39,
1.29,1.31,1.31,1.29,1.33,1.37,1.41,1.37,1.41,1.51,
1.575,1.555,1.49,1.41,1.535,1.575,1.45,1.33,1.37,1.27,
1.41,1.535,1.66,1.72,1.70,1.51,1.33,1.41,1.35,1.29];
var L_lo = [0.28,0.30,0.425,0.59,0.61,0.715,0.69,0.67,0.69,0.715,
0.735,0.755,0.775,0.775,0.755,0.735,0.755,0.735,0.795,0.815,
0.795,0.775,0.795,0.815,0.835,0.815,0.795,0.795,0.815,0.795,
0.835,0.815,0.775,0.775,0.755,0.775,0.795,0.775,0.795,0.775,
0.795,0.795,0.775,0.795,0.775,0.795,0.815,0.835,0.855,0.855,
0.875,0.875,0.855,0.855,0.835,0.835,0.855,0.835,0.815,0.795,
0.795,0.815,0.775,0.755,0.715,0.755,0.775,0.795,0.775,0.775,
0.755,0.795,0.755,0.735,0.715,0.695,0.675,0.63,0.675,0.655,
0.675,0.635,0.615,0.59,0.55,0.51,0.47,0.405,0.47,0.43,
0.43,0.405,0.385,0.365,0.385,0.345,0.325,0.305,0.285,0.26];

var obsSeries = [A_obs, B_obs, C_obs, D_obs, E_obs, F_obs, G_obs, H_obs, I_obs, J_obs, K_obs, L_obs];
var hiSeries  = [A_hi, B_hi, C_hi, D_hi, E_hi, F_hi, G_hi, H_hi, I_hi, J_hi, K_hi, L_hi];
var loSeries  = [A_lo, B_lo, C_lo, D_lo, E_lo, F_lo, G_lo, H_lo, I_lo, J_lo, K_lo, L_lo];

// y limits before R's 4% padding, and the tick values on each panel
var yLims = [[0.5,2], [0.5,1.5], [0.5,1.5], [0.4,1.6], [0.5,1.5], [0,2],
             [0.5,1.5], [0.5,1.5], [0.5,1.5], [0.5,1.5], [0.5,1.5], [0,2]];
var yTicks = [[0.5,1.0,1.5,2.0], [0.6,0.8,1.0,1.2,1.4], [0.6,0.8,1.0,1.2,1.4],
              [0.4,0.6,0.8,1.0,1.2,1.4,1.6], [0.6,0.8,1.0,1.2,1.4], [0,0.5,1.0,1.5,2.0],
              [0.6,0.8,1.0,1.2,1.4], [0.6,0.8,1.0,1.2,1.4], [0.6,0.8,1.0,1.2,1.4],
              [0.6,0.8,1.0,1.2,1.4], [0.6,0.8,1.0,1.2,1.4], [0,0.5,1.0,1.5,2.0]];

var captions = ["coniferous species versus evergreen broad-leaved species",
                "coniferous species versus deciduous broad-leaved species"];

// layout (drawn in a 4234 x 2800 user space, scaled to the window)
var W = 4234, H = 2800;
var colLeft = [165, 1558, 2951];
var rowTop = [22, 647, 1426, 2054];
var boxW = 1248, boxH = 520;

var svg = d3.select("#plotContainer")
    .append("svg")
    .attr("viewBox", "0 0 " + W + " " + H)
    .attr("preserveAspectRatio", "none")
    .attr("width", "100%")
    .attr("height", "100%")
    .style("background", "white");

var x = d3.scaleLinear().domain([-4, 104]).range([0, boxW]);

titles.forEach(function(title, i) {
  var col = i % 3, row = Math.floor(i / 3);
  var lim = yLims[i], pad = (lim[1] - lim[0]) * 0.04;
  var y = d3.scaleLinear().domain([lim[0] - pad, lim[1] + pad]).range([boxH, 0]);

  var g = svg.append("g")
      .attr("transform", "translate(" + colLeft[col] + "," + rowTop[row] + ")");

  var line = d3.line()
      .x(function(d, k) { return x(r[k]); })
      .y(function(d) { return y(d); });

  g.append("path").datum(hiSeries[i]).attr("class", "env").attr("d", line);
  g.append("path").datum(loSeries[i]).attr("class", "env").attr("d", line);
  g.append("path").datum(obsSeries[i]).attr("class", "obs").attr("d", line);

  g.append("rect")
      .attr("width", boxW).attr("height", boxH)
      .attr("fill", "none").attr("stroke", "black").attr("stroke-width", 4);

  // x axis: ticks cross the frame
  var xa = g.append("g")
      .attr("transform", "translate(0," + boxH + ")")
      .call(d3.axisBottom(x).tickValues(xTicks).tickFormat(d3.format("d")).tickSize(15));
  xa.select(".domain").remove();
  xa.selectAll(".tick line").attr("y1", -15).attr("y2", 15);
  xa.selectAll(".tick text").attr("y", 44).attr("dy", "0.35em");

  // y axis: labels rotated, parallel to axis
  var ya = g.append("g")
      .call(d3.axisLeft(y).tickValues(yTicks[i]).tickFormat(d3.format(".1f")).tickSize(15));
  ya.select(".domain").remove();
  ya.selectAll(".tick line").attr("x1", -15).attr("x2", 15);
  ya.selectAll(".tick text")
      .attr("x", null).attr("dy", null)
      .attr("transform", "translate(-38,0) rotate(-90)")
      .attr("text-anchor", "middle")
      .attr("dominant-baseline", "central");

  g.append("text")
      .attr("class", "title")
      .attr("x", boxW / 2)
      .attr("y", 55)
      .attr("text-anchor", "middle")
      .text(title);

  if (col === 0) {
    svg.append("text")
        .attr("class", "ylab")
        .attr("transform", "translate(82," + (rowTop[row] + boxH / 2) + ") rotate(-90)")
        .attr("text-anchor", "middle")
        .attr("dominant-baseline", "central")
        .attr("textLength", 320)
        .attr("lengthAdjust", "spacingAndGlyphs")
        .text("g12 (r)");
  }
});

svg.append("text").attr("class", "caption")
    .attr("x", 2168).attr("y", 1345).attr("text-anchor", "middle")
    .text(captions[0]);

svg.append("text").attr("class", "caption")
    .attr("x", 2196).attr("y", 2760).attr("text-anchor", "middle")
    .text(captions[1]);

colLeft.forEach(function(left) {
  var t = svg.append("text").attr("class", "xlab")
      .attr("x", left + boxW / 2 + 50).attr("y", 2688).attr("text-anchor", "middle");
  t.append("tspan").text("Spatial scale ");
  t.append("tspan").style("font-style", "italic").text("r");
  t.append("tspan").text(" (m)");
});

</script>
</body>
